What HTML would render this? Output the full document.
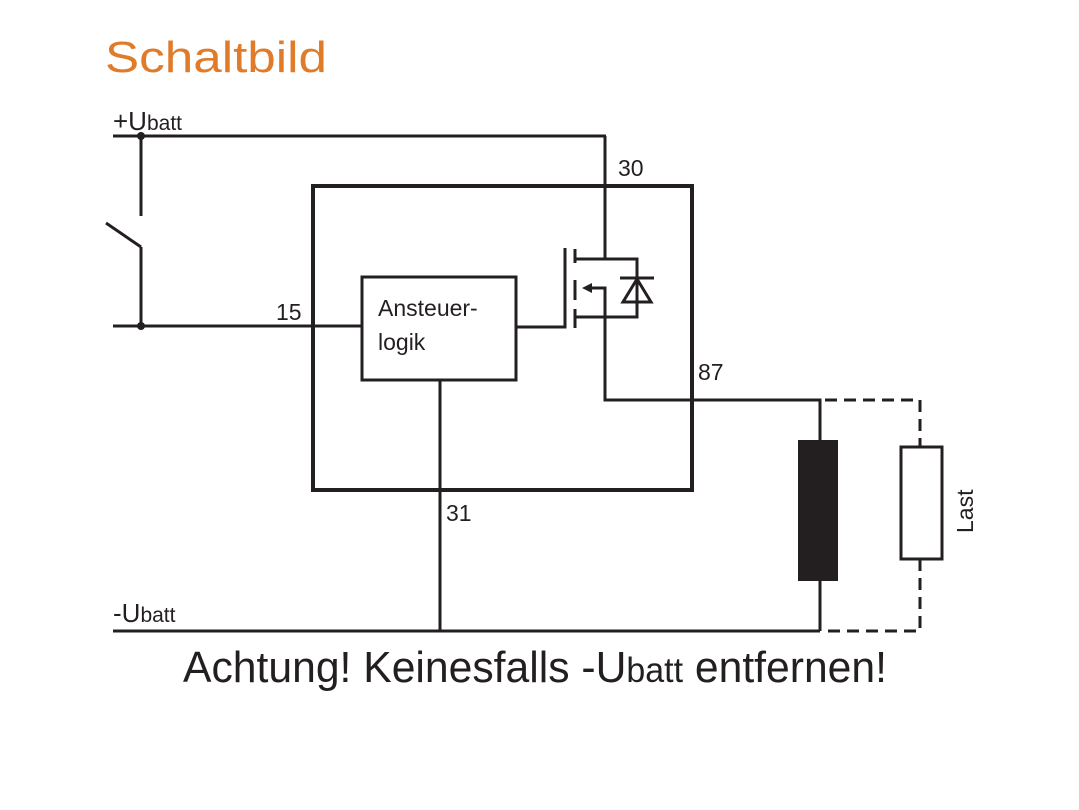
<!DOCTYPE html>
<html><head><meta charset="utf-8"><style>
html,body{margin:0;padding:0;background:#fff;}
svg{display:block;}
text{font-family:"Liberation Sans",Arial,sans-serif;fill:#231f20;}
</style></head><body>
<svg width="1079" height="810" viewBox="0 0 1079 810" xmlns="http://www.w3.org/2000/svg">
<text x="105" y="72" font-size="44" style="fill:#e07b2a" textLength="222" lengthAdjust="spacingAndGlyphs">Schaltbild</text>
<g stroke="#231f20" fill="none" stroke-width="3">
<line x1="113" y1="136" x2="606" y2="136"/>
<line x1="141" y1="136" x2="141" y2="216"/>
<line x1="106" y1="223" x2="141" y2="247"/>
<line x1="141" y1="247" x2="141" y2="326"/>
<line x1="113" y1="326" x2="362" y2="326"/>
<rect x="313" y="186" width="379" height="304" stroke-width="4"/>
<rect x="362" y="277" width="154" height="103"/>
<polyline points="516,327 565,327 565,248"/>
<line x1="575" y1="249" x2="575" y2="263"/>
<line x1="575" y1="280" x2="575" y2="300"/>
<line x1="575" y1="309" x2="575" y2="328"/>
<line x1="605" y1="136" x2="605" y2="259"/>
<polyline points="575,259 637,259 637,317 575,317"/>
<polyline points="590,288 605,288 605,400 820,400 820,440"/>
<line x1="620" y1="278" x2="654" y2="278"/>
<polygon points="637,279 623,302 651,302"/>
<line x1="820" y1="580" x2="820" y2="631"/>
<line x1="440" y1="380" x2="440" y2="631"/>
<line x1="113" y1="631" x2="820" y2="631"/>
<rect x="901" y="447" width="41" height="112"/>
<g stroke-dasharray="12,7">
<polyline points="825,400 920,400 920,447"/>
<polyline points="920,559 920,631 825,631"/>
</g>
</g>
<polygon points="582,288 592,283 592,293" fill="#231f20"/>
<circle cx="141" cy="136" r="4" fill="#231f20"/>
<circle cx="141" cy="326" r="4" fill="#231f20"/>
<rect x="798" y="440" width="40" height="141" fill="#231f20"/>
<text x="113" y="130" font-size="26">+U<tspan font-size="21">batt</tspan></text>
<text x="113" y="622" font-size="26">-U<tspan font-size="21">batt</tspan></text>
<text x="618" y="176" font-size="23">30</text>
<text x="276" y="320" font-size="23">15</text>
<text x="698" y="380" font-size="23">87</text>
<text x="446" y="521" font-size="23">31</text>
<text x="378" y="316" font-size="23">Ansteuer-</text>
<text x="378" y="350" font-size="23">logik</text>
<text x="0" y="0" font-size="23" transform="translate(973,533) rotate(-90)">Last</text>
<text x="183" y="682" font-size="44" textLength="704" lengthAdjust="spacingAndGlyphs">Achtung! Keinesfalls -U<tspan font-size="35">batt</tspan> entfernen!</text>
</svg>
</body></html>
